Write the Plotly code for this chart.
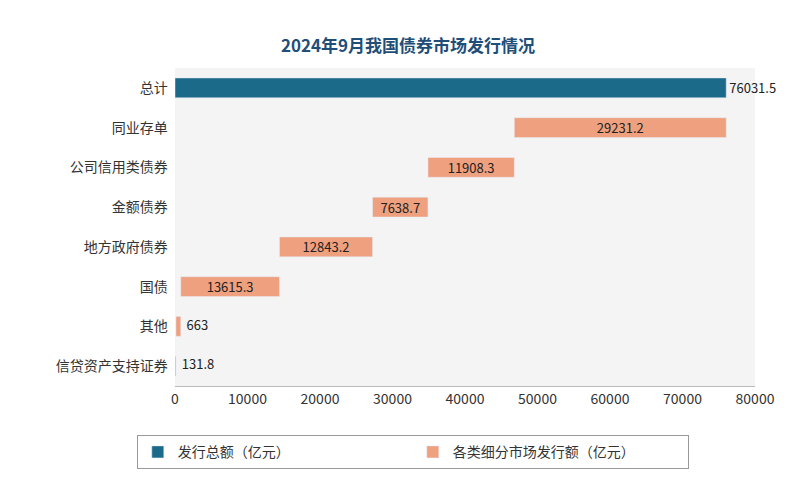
import plotly.graph_objects as go

categories = ["总计", "同业存单", "公司信用类债券", "金额债券", "地方政府债券", "国债", "其他", "信贷资产支持证券"]
total_value = 76031.5
segment_values = [29231.2, 11908.3, 7638.7, 12843.2, 13615.3, 663, 131.8]
seg_cats = categories[1:]

bases = [0.0] * len(segment_values)
acc = 0.0
for i in range(len(segment_values) - 1, -1, -1):
    bases[i] = acc
    acc += segment_values[i]

seg_text = [f"{v:g}" if v >= 5000 else "" for v in segment_values]
small_text = [f"{v:g}" if v < 5000 else "" for v in segment_values]

fig = go.Figure()
fig.add_trace(go.Bar(y=[categories[0]], x=[total_value], orientation="h",
                     marker_color="#1C6A8A", name="发行总额（亿元）",
                     text=[f"{total_value:g}"], textposition="outside",
                     textfont=dict(color="#222", size=13), cliponaxis=False, width=0.5))
fig.add_trace(go.Bar(y=seg_cats, x=segment_values, base=bases, orientation="h",
                     marker_color="#EFA07F", name="各类细分市场发行额（亿元）",
                     text=seg_text, textposition="inside", insidetextanchor="middle",
                     constraintext="none",
                     textfont=dict(color="#222", size=13), width=0.5))
fig.add_trace(go.Scatter(y=seg_cats, x=[b + v + 800 for b, v in zip(bases, segment_values)],
                         mode="text", text=small_text, textposition="middle right",
                         textfont=dict(color="#222", size=13), showlegend=False,
                         hoverinfo="skip", cliponaxis=False))

fig.update_layout(
    width=800, height=500, paper_bgcolor="white", plot_bgcolor="#F4F4F4",
    barmode="overlay",
    uniformtext=dict(mode="show", minsize=13),
    title=dict(text="<b>2024年9月我国债券市场发行情况</b>", x=0.5, y=0.935, xanchor="center",
               font=dict(family="Noto Sans CJK SC", size=17, color="#1F4E79")),
    font=dict(family="Noto Sans CJK SC", size=14, color="#333"),
    margin=dict(l=167, r=53, t=60, b=122, autoexpand=False),
    xaxis=dict(range=[0, 80000], dtick=10000, showgrid=False, zeroline=False,
               showline=True, linecolor="#BBB", ticks="", tickformat="d", automargin=False),
    yaxis=dict(categoryorder="array", categoryarray=categories[::-1],
               showgrid=False, ticks="", ticksuffix="  ", automargin=False),
    legend=dict(orientation="h", x=0.41, xanchor="center", y=-0.155, yanchor="top",
                bordercolor="#999", borderwidth=1, font=dict(size=14),
                entrywidth=230, traceorder="normal"),
)
fig.write_html("out.html")
